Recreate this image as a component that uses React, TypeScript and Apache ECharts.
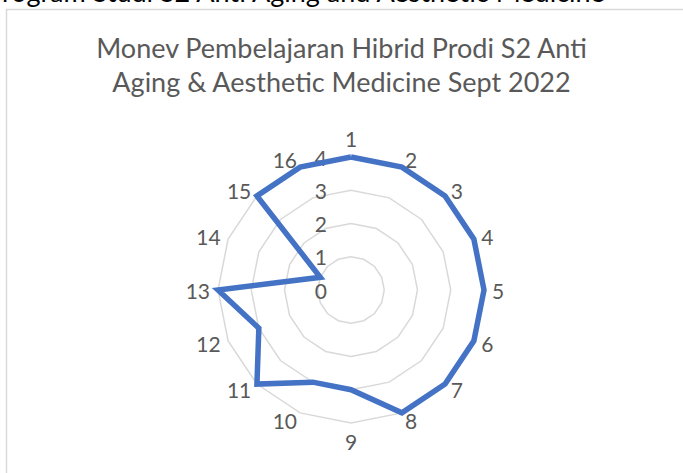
import React, { useEffect, useRef } from "react";
import * as echarts from "echarts";

// ---- data ----
const categories = ["1", "2", "3", "4", "5", "6", "7", "8", "9", "10", "11", "12", "13", "14", "15", "16"];
const values = [4, 4, 4, 4, 4, 4, 4, 4, 3, 3, 4, 3, 4, 1, 4, 4];
const axisMin = 0;
const axisMax = 4;
const splitCount = 4;
const titleLines = ["Monev Pembelajaran Hibrid Prodi S2 Anti", "Aging & Aesthetic Medicine Sept 2022"];
const headerText = "Program Studi S2 Anti Aging and Aesthetic Medicine";

const FONT = "Lato, 'Noto Sans', sans-serif";
const GRAY = "#595959";

export default function App() {
  const ref = useRef<HTMLDivElement>(null);
  useEffect(() => {
    if (!ref.current) return;
    const chart = echarts.init(ref.current, undefined, { renderer: "svg" });
    // Excel draws clockwise; ECharts radar goes counter-clockwise -> reorder
    const order = [0, ...categories.map((_, i) => i).slice(1).reverse()];
    const indicator = order.map((i) => ({
      name: categories[i],
      min: axisMin,
      max: axisMax,
      ...(i === 0
        ? {
            axisLabel: {
              show: true,
              margin: 24,
              color: GRAY,
              fontSize: 21,
              fontFamily: FONT,
            },
          }
        : {}),
    }));
    chart.setOption({
      animation: false,
      backgroundColor: "#ffffff",
      title: {
        text: titleLines.join("\n"),
        left: "center",
        top: 25,
        textStyle: {
          color: GRAY,
          fontSize: 27,
          fontWeight: "normal",
          fontFamily: FONT,
          lineHeight: 34,
        },
      },
      graphic: [
        {
          type: "rect",
          shape: { x: 6.5, y: 9.5, width: 720, height: 520 },
          style: { fill: "none", stroke: "#d9d9d9", lineWidth: 1.5 },
          silent: true,
        },
        {
          type: "text",
          x: -14,
          y: 5,
          style: {
            text: headerText,
            fill: "#000000",
            fontSize: 27,
            fontFamily: FONT,
            verticalAlign: "bottom",
            align: "left",
          },
          silent: true,
        },
      ],
      radar: {
        center: [351, 290],
        radius: 133,
        startAngle: 90,
        splitNumber: splitCount,
        shape: "polygon",
        nameGap: 8,
        axisName: { color: GRAY, fontSize: 21, fontFamily: FONT },
        axisLine: { show: false },
        axisTick: { show: false },
        axisLabel: { show: false },
        splitLine: { lineStyle: { color: "#d9d9d9", width: 1.5 } },
        splitArea: { show: false },
        indicator,
      },
      series: [
        {
          type: "radar",
          symbol: "none",
          lineStyle: { color: "#4472C4", width: 5.5, join: "miter", miterLimit: 4 },
          data: [{ value: order.map((i) => values[i]), name: "Monev" }],
        },
      ],
    });
    return () => chart.dispose();
  }, []);
  return (
    <div
      ref={ref}
      style={{ position: "fixed", left: 0, top: 0, width: 683, height: 473 }}
    />
  );
}
